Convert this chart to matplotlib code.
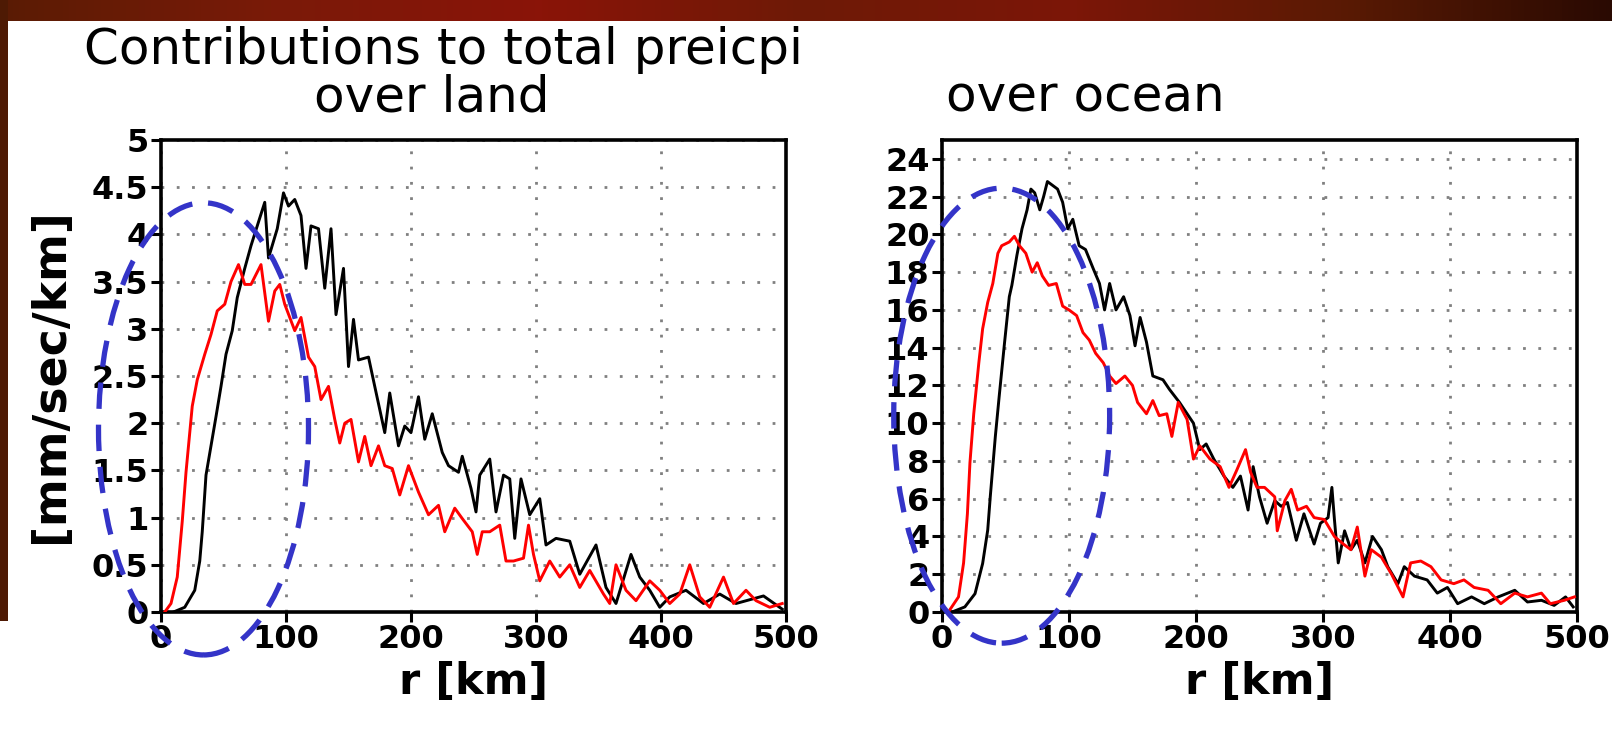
import matplotlib
matplotlib.use("Agg")
import matplotlib.pyplot as plt
import numpy as np
from matplotlib.patches import Ellipse
from matplotlib.colors import LinearSegmentedColormap

# land panel, black curve (r in km, value in mm/sec/km)
land_black_r = [10, 19, 27, 31, 33, 36, 40, 44, 48, 52, 57, 61, 67, 72, 77, 83, 86, 93, 98,
                102, 107, 112, 116, 120, 126, 131, 136, 140, 146, 150, 154, 158, 166, 171,
                179, 183, 190, 195, 200, 206, 211, 217, 225, 230, 238, 241, 248, 252, 255,
                263, 268, 274, 279, 283, 288, 295, 303, 308, 316, 327, 335, 348, 356, 364,
                376, 383, 391, 399, 407, 420, 434, 447, 460, 482, 497]
land_black_v = [0.0, 0.05, 0.23, 0.54, 0.85, 1.45, 1.76, 2.07, 2.39, 2.73, 2.98, 3.33, 3.64,
                3.88, 4.09, 4.34, 3.75, 4.06, 4.44, 4.30, 4.37, 4.20, 3.64, 4.09, 4.06, 3.43,
                4.06, 3.15, 3.64, 2.60, 3.10, 2.67, 2.70, 2.39, 1.90, 2.32, 1.76, 1.97, 1.90,
                2.28, 1.83, 2.10, 1.69, 1.55, 1.48, 1.65, 1.31, 1.06, 1.45, 1.62, 1.06, 1.45,
                1.41, 0.78, 1.41, 1.03, 1.20, 0.71, 0.78, 0.75, 0.40, 0.71, 0.26, 0.09, 0.61,
                0.37, 0.23, 0.05, 0.16, 0.23, 0.09, 0.19, 0.09, 0.17, 0.03]

# land panel, red curve
land_red_r = [3, 8, 13, 17, 20, 23, 25, 29, 35, 40, 45, 51, 56, 62, 67, 72, 80, 86, 91, 95,
              99, 107, 112, 118, 123, 128, 134, 139, 143, 147, 152, 158, 163, 168, 174, 179,
              185, 191, 198, 206, 214, 222, 227, 235, 241, 249, 253, 257, 263, 271, 276, 282,
              290, 294, 298, 303, 311, 319, 327, 335, 343, 354, 359, 364, 372, 380, 391, 399,
              407, 415, 423, 431, 439, 450, 458, 468, 476, 487, 497]
land_red_v = [0.0, 0.09, 0.37, 0.96, 1.48, 1.90, 2.18, 2.46, 2.73, 2.94, 3.19, 3.26, 3.50,
              3.68, 3.47, 3.47, 3.68, 3.08, 3.40, 3.47, 3.26, 2.98, 3.12, 2.70, 2.60, 2.25,
              2.39, 2.04, 1.79, 2.00, 2.04, 1.59, 1.86, 1.55, 1.76, 1.55, 1.52, 1.24, 1.55,
              1.27, 1.03, 1.13, 0.85, 1.10, 0.99, 0.85, 0.61, 0.85, 0.85, 0.92, 0.54, 0.54,
              0.57, 0.92, 0.61, 0.33, 0.54, 0.37, 0.50, 0.26, 0.44, 0.19, 0.09, 0.50, 0.23,
              0.12, 0.33, 0.23, 0.09, 0.19, 0.50, 0.16, 0.05, 0.37, 0.09, 0.23, 0.12, 0.05,
              0.09]

# ocean panel, black curve
ocean_black_r = [8, 18, 26, 32, 36, 38, 42, 45, 49, 53, 55, 59, 63, 67, 70, 73, 77, 80, 83,
                 87, 91, 95, 99, 103, 108, 113, 119, 124, 128, 132, 137, 143, 148, 152, 156,
                 161, 166, 174, 179, 187, 193, 198, 203, 208, 214, 222, 229, 235, 241, 245,
                 250, 256, 262, 267, 272, 279, 285, 293, 298, 304, 307, 309, 312, 317, 322,
                 327, 333, 339, 346, 351, 359, 364, 372, 382, 390, 398, 406, 417, 427, 438,
                 451, 461, 472, 482, 491, 497]
ocean_black_v = [0.0, 0.27, 0.97, 2.57, 4.34, 6.1, 9.3, 11.4, 14.1, 16.7, 17.3, 18.9, 20.3,
                 21.3, 22.4, 22.2, 21.3, 22.0, 22.8, 22.6, 22.4, 21.7, 20.3, 20.8, 19.4, 19.2,
                 18.2, 17.4, 16.0, 17.4, 16.0, 16.7, 15.7, 14.1, 15.6, 14.3, 12.5, 12.3, 11.8,
                 11.1, 10.5, 10.0, 8.6, 8.9, 8.1, 7.2, 6.6, 7.2, 5.4, 7.7, 6.1, 4.7, 5.9, 5.6,
                 5.8, 3.8, 5.2, 3.6, 4.7, 5.0, 6.6, 4.9, 2.6, 4.3, 3.3, 3.8, 2.6, 4.0, 3.3,
                 2.4, 1.5, 2.4, 1.9, 1.7, 1.0, 1.3, 0.44, 0.8, 0.44, 0.8, 1.15, 0.53, 0.62,
                 0.35, 0.8, 0.27]

# ocean panel, red curve
ocean_red_r = [5, 13, 17, 20, 22, 25, 29, 32, 36, 40, 44, 47, 53, 57, 61, 66, 71, 75, 79,
               84, 90, 95, 100, 106, 111, 116, 121, 127, 132, 137, 144, 150, 154, 161, 166,
               171, 177, 181, 186, 193, 198, 203, 211, 219, 226, 232, 239, 243, 248, 254, 262,
               264, 270, 275, 280, 287, 293, 301, 309, 316, 322, 327, 333, 338, 346, 354, 363,
               369, 377, 385, 393, 403, 411, 419, 430, 440, 451, 461, 472, 479, 490, 498]
ocean_red_v = [0.0, 0.8, 2.6, 5.2, 7.9, 10.5, 13.2, 15.0, 16.4, 17.4, 19.0, 19.4, 19.6,
               19.9, 19.4, 19.0, 18.0, 18.5, 17.8, 17.3, 17.4, 16.2, 16.0, 15.7, 14.8, 14.4,
               13.7, 13.2, 12.5, 12.1, 12.5, 12.0, 11.1, 10.5, 11.2, 10.4, 10.5, 9.3, 11.1,
               10.2, 8.1, 8.8, 8.1, 7.7, 6.6, 7.5, 8.6, 7.4, 6.6, 6.6, 6.1, 4.3, 5.9, 6.5,
               5.4, 5.6, 5.0, 4.9, 4.0, 3.6, 3.3, 4.5, 1.9, 3.3, 2.9, 2.0, 0.8, 2.6, 2.7,
               2.4, 1.7, 1.5, 1.7, 1.3, 1.15, 0.44, 1.0, 0.8, 1.0, 0.44, 0.62, 0.8]

land_yticks = [0, 0.5, 1, 1.5, 2, 2.5, 3, 3.5, 4, 4.5, 5]
land_ylabels = ["0", "0.5", "1", "1.5", "2", "2.5", "3", "3.5", "4", "4.5", "5"]
ocean_yticks = list(range(0, 25, 2))
r_ticks = [0, 100, 200, 300, 400, 500]

# dashed highlight ellipses (center r, center value, width, height)
land_ring = (34, 1.94, 168, 4.79)
ocean_ring = (47, 10.4, 170, 24.1)

tick_font = dict(family="DejaVu Sans", weight="bold", size=23)
title_font = ["Liberation Sans Narrow", "DejaVu Sans"]

fig = plt.figure(figsize=(16.12, 7.31), dpi=100)
fig.patch.set_facecolor("white")

# slide frame: dark red band on top, thin band on the left
band = LinearSegmentedColormap.from_list(
    "band", ["#5a1c04", "#7a1a08", "#8a1408", "#6e1a06", "#7c1608", "#5a1a04", "#2a0a02"])
bax = fig.add_axes([0, 1 - 21 / 731, 1, 21 / 731])
bax.imshow(np.linspace(0, 1, 256)[None, :], aspect="auto", cmap=band)
bax.axis("off")
lax = fig.add_axes([0, 0.15, 8 / 1612, 0.85])
lax.set_facecolor("#4e1a04")
lax.set_xticks([])
lax.set_yticks([])
for s in lax.spines.values():
    s.set_visible(False)


def panel(rect, rb, vb, rr, vr, ymax, yticks, ylabels, ring):
    ax = fig.add_axes(rect)
    ax.plot(rb, vb, color="black", lw=2.1, zorder=3)
    ax.plot(rr, vr, color="#ff0000", lw=2.1, zorder=3)
    ax.set_xlim(0, 500)
    ax.set_ylim(0, ymax)
    ax.set_xticks(r_ticks)
    ax.set_yticks(yticks)
    ax.set_yticklabels(ylabels)
    for lab in ax.get_xticklabels() + ax.get_yticklabels():
        lab.set_fontproperties(tick_font)
    ax.tick_params(direction="out", length=7, width=2.2, pad=2)
    ax.grid(True, color="#808080", lw=2.0, linestyle=(0, (1, 4.5)))
    for s in ax.spines.values():
        s.set_linewidth(2.6)
    ax.set_xlabel("r [km]", fontsize=31, fontweight="bold", labelpad=4)
    e = Ellipse((ring[0], ring[1]), ring[2], ring[3], fill=False, edgecolor="#3434c8",
                lw=3.8, linestyle=(0, (5, 3)), clip_on=False, zorder=5)
    ax.add_patch(e)
    return ax


ax1 = panel([161 / 1612, 119 / 731, 625 / 1612, 472 / 731], land_black_r, land_black_v,
            land_red_r, land_red_v, 5, land_yticks, land_ylabels, land_ring)
ax1.set_ylabel("[mm/sec/km]", fontsize=33, fontweight="bold")
ax1.yaxis.set_label_coords(-0.14, 0.5)

ax2 = panel([942 / 1612, 119 / 731, 635 / 1612, 472 / 731], ocean_black_r, ocean_black_v,
            ocean_red_r, ocean_red_v, 25, ocean_yticks,
            [str(t) for t in ocean_yticks], ocean_ring)

fig.text(443 / 1612, 1 - 50 / 731, "Contributions to total preicpi", ha="center", va="center",
         fontsize=36, family=title_font)
fig.text(432 / 1612, 1 - 97 / 731, "over land", ha="center", va="center",
         fontsize=36, family=title_font)
fig.text(946 / 1612, 1 - 97 / 731, "over ocean", ha="left", va="center",
         fontsize=36, family=title_font)

fig.savefig("out.png", dpi=100)
